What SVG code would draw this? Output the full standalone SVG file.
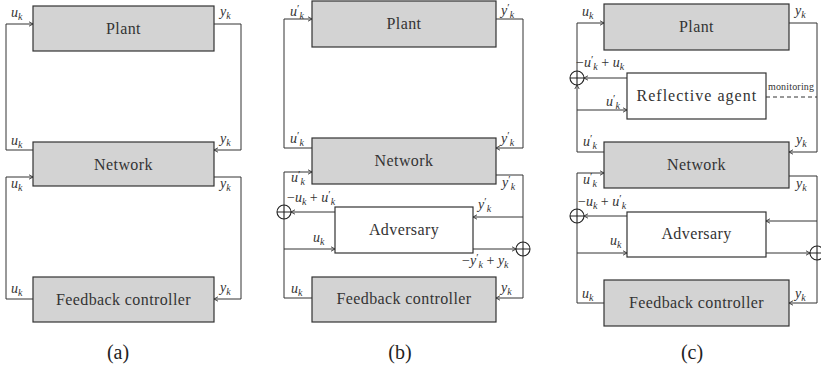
<svg xmlns="http://www.w3.org/2000/svg" width="821" height="372" viewBox="0 0 821 372">
<style>
.box{fill:#d3d3d3;stroke:#333;stroke-width:1.2}
.wbox{fill:#fff;stroke:#333;stroke-width:1.2}
.ln{fill:none;stroke:#333;stroke-width:1}
.dash{fill:none;stroke:#333;stroke-width:1;stroke-dasharray:4 3}
.sum{fill:none;stroke:#222;stroke-width:1.1}
text{font-family:'Liberation Serif','DejaVu Serif',serif}
.lbl{font-size:16px;fill:#333;text-anchor:middle;letter-spacing:0.4px}
.m{font-style:italic;font-size:14px;fill:#333}
.s{font-size:10px}
.p{font-size:11px;font-style:normal}
.r{font-style:normal}
.cap{font-size:20px;fill:#222;text-anchor:middle}
.mon{font-size:10px;fill:#333}
</style>
<defs>
<marker id="ar" viewBox="-5 -3 6 6" refX="0" refY="0" markerWidth="6" markerHeight="6" markerUnits="userSpaceOnUse" orient="auto">
<path d="M-4,-2.2 L0,0 L-4,2.2" fill="none" stroke="#333" stroke-width="0.9"/>
</marker>
<g id="sum" class="sum"><circle r="7"/><path d="M-7,0H7M0,-7V7"/></g>
</defs>

<g id="connectors">
<!-- (a) -->
<path class="ln" d="M33,150 H6 V24 H33" marker-end="url(#ar)"/>
<path class="ln" d="M214,24 H241 V150 H214" marker-end="url(#ar)"/>
<path class="ln" d="M33,299 H6 V177 H33" marker-end="url(#ar)"/>
<path class="ln" d="M214,177 H241 V299 H214" marker-end="url(#ar)"/>
<!-- (b) -->
<path class="ln" d="M312,148 H284 V19 H312" marker-end="url(#ar)"/>
<path class="ln" d="M496,19 H523 V148 H496" marker-end="url(#ar)"/>
<path class="ln" d="M312,298 H284 V219"/>
<path class="ln" d="M284,205 V172 H312" marker-end="url(#ar)"/>
<path class="ln" d="M284,249 H335" marker-end="url(#ar)"/>
<path class="ln" d="M335,212 H291" marker-end="url(#ar)"/>
<path class="ln" d="M496,175 H523 V242"/>
<path class="ln" d="M523,256 V298 H496" marker-end="url(#ar)"/>
<path class="ln" d="M523,217 H473" marker-end="url(#ar)"/>
<path class="ln" d="M473,249 H516" marker-end="url(#ar)"/>
<!-- (c) -->
<path class="ln" d="M604,152 H577 V85" marker-end="url(#ar)"/>
<path class="ln" d="M577,71 V23 H604" marker-end="url(#ar)"/>
<path class="ln" d="M577,110 H627" marker-end="url(#ar)"/>
<path class="ln" d="M627,78 H584" marker-end="url(#ar)"/>
<path class="ln" d="M789,23 H817 V152 H789" marker-end="url(#ar)"/>
<path class="dash" d="M766,97 H817"/>
<path class="ln" d="M604,303 H577 V223"/>
<path class="ln" d="M577,209 V173 H604" marker-end="url(#ar)"/>
<path class="ln" d="M577,253 H627" marker-end="url(#ar)"/>
<path class="ln" d="M627,216 H584" marker-end="url(#ar)"/>
<path class="ln" d="M789,176 H817 V246"/>
<path class="ln" d="M817,260 V303 H789" marker-end="url(#ar)"/>
<path class="ln" d="M817,221 H766" marker-end="url(#ar)"/>
<path class="ln" d="M766,253 H810" marker-end="url(#ar)"/>
<use href="#sum" x="284" y="212"/>
<use href="#sum" x="523" y="249"/>
<use href="#sum" x="577" y="78"/>
<use href="#sum" x="577" y="216"/>
<use href="#sum" x="817" y="253"/>
</g>

<!-- Panel (a) -->
<g id="a-plant"><rect class="box" x="33" y="6" width="181" height="45"/><text class="lbl" x="123.5" y="34">Plant</text></g>
<g id="a-network"><rect class="box" x="33" y="142" width="181" height="44"/><text class="lbl" x="123.5" y="169.5">Network</text></g>
<g id="a-controller"><rect class="box" x="33" y="277" width="181" height="45"/><text class="lbl" x="123.5" y="305">Feedback controller</text></g>

<!-- Panel (b) -->
<g id="b-plant"><rect class="box" x="312" y="1" width="184" height="46"/><text class="lbl" x="404" y="29">Plant</text></g>
<g id="b-network"><rect class="box" x="312" y="138" width="184" height="46"/><text class="lbl" x="404" y="166">Network</text></g>
<g id="b-adversary"><rect class="wbox" x="335" y="207" width="138" height="46"/><text class="lbl" x="404" y="235">Adversary</text></g>
<g id="b-controller"><rect class="box" x="312" y="277" width="184" height="45"/><text class="lbl" x="404" y="304">Feedback controller</text></g>

<!-- Panel (c) -->
<g id="c-plant"><rect class="box" x="604" y="4" width="185" height="46"/><text class="lbl" x="696.5" y="32">Plant</text></g>
<g id="c-agent"><rect class="wbox" x="627" y="73" width="139" height="46"/><text class="lbl" x="696.5" y="101" textLength="120">Reflective agent</text></g>
<g id="c-network"><rect class="box" x="604" y="142" width="185" height="46"/><text class="lbl" x="696.5" y="170">Network</text></g>
<g id="c-adversary"><rect class="wbox" x="627" y="212" width="139" height="45"/><text class="lbl" x="696.5" y="239">Adversary</text></g>
<g id="c-controller"><rect class="box" x="604" y="280" width="185" height="46"/><text class="lbl" x="696.5" y="308">Feedback controller</text></g>

<g id="labels">
<!-- (a) -->
<text class="m" x="11" y="17">u<tspan class="s" dy="3">k</tspan></text>
<text class="m" x="220" y="16">y<tspan class="s" dy="3">k</tspan></text>
<text class="m" x="11" y="145">u<tspan class="s" dy="3">k</tspan></text>
<text class="m" x="220" y="143">y<tspan class="s" dy="3">k</tspan></text>
<text class="m" x="11" y="188">u<tspan class="s" dy="3">k</tspan></text>
<text class="m" x="220" y="188">y<tspan class="s" dy="3">k</tspan></text>
<text class="m" x="11" y="293">u<tspan class="s" dy="3">k</tspan></text>
<text class="m" x="220" y="292">y<tspan class="s" dy="3">k</tspan></text>
<!-- (b) -->
<text class="m" x="290" y="16">u<tspan class="p" dy="-4">′</tspan><tspan class="s" dy="7">k</tspan></text>
<text class="m" x="501" y="15">y<tspan class="p" dy="-4">′</tspan><tspan class="s" dy="7">k</tspan></text>
<text class="m" x="290" y="143">u<tspan class="p" dy="-4">′</tspan><tspan class="s" dy="7">k</tspan></text>
<text class="m" x="501" y="143">y<tspan class="p" dy="-4">′</tspan><tspan class="s" dy="7">k</tspan></text>
<text class="m" x="291" y="182">u<tspan class="p" dy="-4">′</tspan><tspan class="s" dy="7">k</tspan></text>
<text class="m" x="502" y="187">y<tspan class="p" dy="-4">′</tspan><tspan class="s" dy="7">k</tspan></text>
<text class="m" x="287" y="202"><tspan class="r">−</tspan>u<tspan class="s" dy="3">k</tspan><tspan class="r" dy="-3"> + </tspan>u<tspan class="p" dy="-4">′</tspan><tspan class="s" dy="7">k</tspan></text>
<text class="m" x="478" y="209">y<tspan class="p" dy="-4">′</tspan><tspan class="s" dy="7">k</tspan></text>
<text class="m" x="313" y="242">u<tspan class="s" dy="3">k</tspan></text>
<text class="m" x="462" y="265"><tspan class="r">−</tspan>y<tspan class="p" dy="-4">′</tspan><tspan class="s" dy="7">k</tspan><tspan class="r" dy="-3"> + </tspan>y<tspan class="s" dy="3">k</tspan></text>
<text class="m" x="291" y="293">u<tspan class="s" dy="3">k</tspan></text>
<text class="m" x="501" y="292">y<tspan class="s" dy="3">k</tspan></text>
<!-- (c) -->
<text class="m" x="582" y="16">u<tspan class="s" dy="3">k</tspan></text>
<text class="m" x="795" y="15">y<tspan class="s" dy="3">k</tspan></text>
<text class="m" x="576" y="67"><tspan class="r">−</tspan>u<tspan class="p" dy="-4">′</tspan><tspan class="s" dy="7">k</tspan><tspan class="r" dy="-3"> + </tspan>u<tspan class="s" dy="3">k</tspan></text>
<text class="m" x="606" y="106">u<tspan class="p" dy="-4">′</tspan><tspan class="s" dy="7">k</tspan></text>
<text class="mon" x="768" y="90" textLength="46">monitoring</text>
<text class="m" x="583" y="146">u<tspan class="p" dy="-4">′</tspan><tspan class="s" dy="7">k</tspan></text>
<text class="m" x="796" y="144">y<tspan class="s" dy="3">k</tspan></text>
<text class="m" x="583" y="184">u<tspan class="p" dy="-4">′</tspan><tspan class="s" dy="7">k</tspan></text>
<text class="m" x="796" y="188">y<tspan class="s" dy="3">k</tspan></text>
<text class="m" x="578" y="206"><tspan class="r">−</tspan>u<tspan class="s" dy="3">k</tspan><tspan class="r" dy="-3"> + </tspan>u<tspan class="p" dy="-4">′</tspan><tspan class="s" dy="7">k</tspan></text>
<text class="m" x="610" y="245">u<tspan class="s" dy="3">k</tspan></text>
<text class="m" x="582" y="298">u<tspan class="s" dy="3">k</tspan></text>
<text class="m" x="795" y="298">y<tspan class="s" dy="3">k</tspan></text>
</g>

<g id="captions">
<text class="cap" x="118" y="359">(a)</text>
<text class="cap" x="400" y="359">(b)</text>
<text class="cap" x="692" y="359">(c)</text>
</g>
</svg>
